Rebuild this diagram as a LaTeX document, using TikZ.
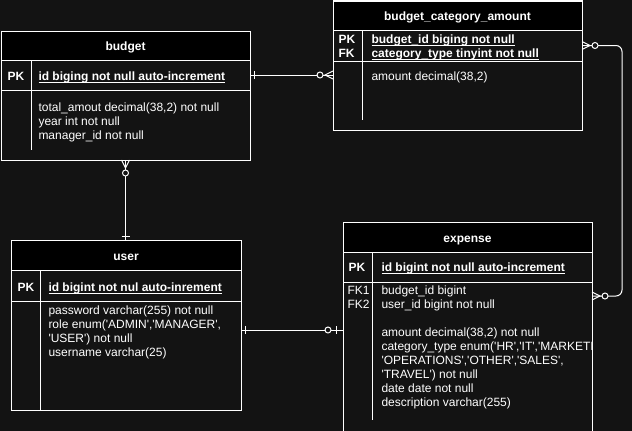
\documentclass[tikz,border=0pt]{standalone}
\usepackage{fontspec}
\setmainfont{Liberation Sans}[Ligatures=TeXOff]
\usetikzlibrary{calc}
\definecolor{canvas}{HTML}{131313}
% underline a little under the baseline, as the tool draws it
\newcommand{\keyunder}[1]{\setbox0\hbox{#1}\rlap{\vrule height -1.6pt depth 2.6pt width \wd0}\box0}

\begin{document}
\begin{tikzpicture}[x=1pt,y=-1pt,line width=1pt]
\fontsize{12}{14}\selectfont
\tikzset{tbox/.style={draw=white,fill=canvas,anchor=north west,inner sep=0pt,outer sep=0pt},
  thead/.style={tbox,fill=black,text=white,font=\bfseries,text height=12pt,text depth=2pt},
  tkey/.style={tbox,fill=none},
  % multi-line texts sit on the baseline of their last line
  txt/.style={anchor=base west,inner sep=0pt,text=white,align=left},
  keytxt/.style={txt,font=\bfseries},
  conn/.style={draw=white},
  erone/.pic={\draw[white] (4,-4) -- (4,4);},
  ermany/.pic={\draw[white] (0,-4) -- (8,0) -- (0,4); \draw[white,fill=canvas] (13,0) circle (3pt);},
  eropt/.pic={\draw[white] (7,-4) -- (7,4); \draw[white,fill=canvas] (15,0) circle (3pt);}}
\useasboundingbox (0,0) rectangle (632,431);
\fill[canvas] (0,0) rectangle (632,431);

% budget
\node[tbox,minimum width=249pt,minimum height=129pt] (budget) at (1,31) {};
\node[thead,minimum width=249pt,minimum height=29pt] (budgethead) at (budget.north west) {budget};
\node[tkey,minimum width=249pt,minimum height=30pt] (budgetkey) at (budgethead.south west) {};
\draw[white] ($(budgetkey.north west)+(30,0)$) -- ++(0,90);
\node[keytxt] (budgetpk) at (7,80) {PK};
\node[keytxt] (budgetid) at (38,80) {\keyunder{id biging not null auto-increment}};
\node[txt] (budgetcols) at (38,139) {total\_amout decimal(38,2) not null\\year int not null\\manager\_id not null};

% budget_category_amount
\node[tbox,minimum width=249pt,minimum height=129pt] (bca) at (333,1) {};
\node[thead,minimum width=249pt,minimum height=29pt] (bcahead) at (bca.north west) {budget\_category\_amount};
\node[tkey,minimum width=249pt,minimum height=31pt] (bcakey) at (bcahead.south west) {};
\draw[white] ($(bcakey.north west)+(29,0)$) -- ++(0,90);
\node[keytxt] (bcapk) at (338,57) {PK\\FK};
\node[keytxt] (bcaid) at (371,57) {\keyunder{budget\_id biging not null}\\\keyunder{category\_type tinyint not null}};
\node[txt] (bcacols) at (371,80) {amount decimal(38,2)};

% user
\node[tbox,minimum width=230pt,minimum height=170pt] (user) at (11,240) {};
\node[thead,minimum width=230pt,minimum height=30pt] (userhead) at (user.north west) {user};
\node[tkey,minimum width=230pt,minimum height=31pt] (userkey) at (userhead.south west) {};
\draw[white] ($(userkey.north west)+(29,0)$) -- ++(0,140);
\node[keytxt] (userpk) at (17,291) {PK};
\node[keytxt] (userid) at (48,291) {\keyunder{id bigint not nul auto-inrement}};
\node[txt] (usercols) at (48,356) {password varchar(255) not null\\role enum('ADMIN','MANAGER',\\'USER') not null\\username varchar(25)};

% expense (runs past the lower edge)
\node[tbox,minimum width=249pt,minimum height=216pt] (expense) at (343,222) {};
\node[thead,minimum width=249pt,minimum height=30pt] (exphead) at (expense.north west) {expense};
\node[tkey,minimum width=249pt,minimum height=30pt] (expkey) at (exphead.south west) {};
\draw[white] ($(expkey.north west)+(29,0)$) -- ++(0,168);
\node[keytxt] (exppk) at (348,271) {PK};
\node[keytxt] (expid) at (381,271) {\keyunder{id bigint not null auto-increment}};
\node[txt] (expfk) at (347,308) {FK1\\FK2};
\begin{scope}
\clip (expkey.south west) rectangle ($(expense.south east)+(-1,0)$);
\node[txt] (expcols) at (381,406) {budget\_id bigint\\user\_id bigint not null\\[14pt]amount decimal(38,2) not null\\category\_type enum('HR','IT','MARKETI\\'OPERATIONS','OTHER','SALES',\\'TRAVEL') not null\\date date not null\\description varchar(255)};
\end{scope}

% relations
\coordinate (bcaleft) at (budgetkey.east -| bca.west);
\coordinate (userup) at (budget.south |- user.north);
\coordinate (userright) at ($(userkey.south east)+(0,29)$);
\coordinate (expleft) at (userright -| expense.west);
\coordinate (expright) at ($(expkey.south east)+(0,14)$);
\draw[conn] (budgetkey.east) -- (bcaleft);
\draw[conn] (budget.south) -- (userup);
\draw[conn] (userright) -- (expleft);
\draw[conn,rounded corners=6pt] (bcakey.east) -- ++(40,0) |- (expright);
\pic at (budgetkey.east) {erone};
\pic[rotate=180] at (bcaleft) {ermany};
\pic[rotate=-90] at (budget.south) {ermany};
\pic[rotate=90] at (userup) {erone};
\pic at (userright) {erone};
\pic[rotate=180] at (expleft) {eropt};
\pic at (bcakey.east) {ermany};
\pic at (expright) {ermany};
\end{tikzpicture}
\end{document}
